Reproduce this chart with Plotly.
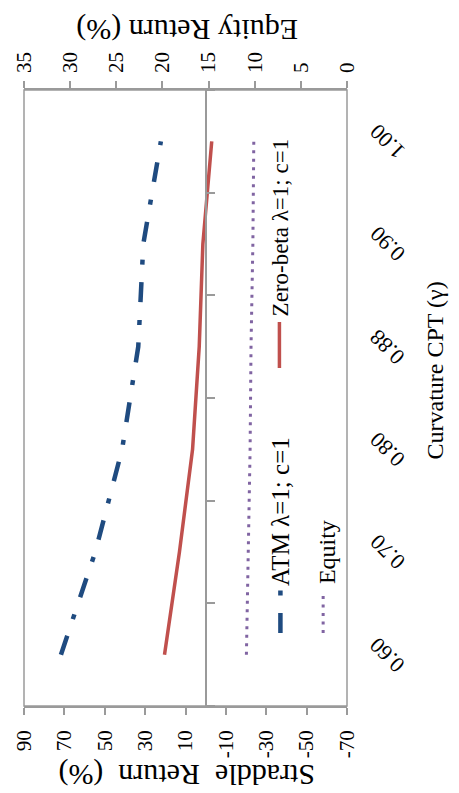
import plotly.graph_objects as go

# Curvature of the CPT value function (category axis)
gamma_labels = ["0.60", "0.70", "0.80", "0.88", "0.90", "1.00"]

# Straddle returns (%), primary axis
atm_returns = [71.7, 54.7, 41.4, 33.4, 30.9, 22.2]
zero_beta_returns = [20.4, 13.0, 6.5, 3.2, 1.4, -3.0]

# Equity return (%), secondary axis
equity_returns = [10.9, 10.7, 10.5, 10.4, 10.2, 10.1]

straddle_ticks = [90, 70, 50, 30, 10, -10, -30, -50, -70]
equity_ticks = [35, 30, 25, 20, 15, 10, 5, 0]

SERIF = "Liberation Serif"
AXIS_GREY = "#9a9a9a"
ATM_BLUE = "#1f4b80"
ZB_RED = "#c0504d"
EQ_PURPLE = "#8064a2"
ATM_DASH = "20px,17.5px,5px,18px"
EQ_DASH = "3px,5.5px"

W, H = 459, 793
ML, MR, MT, MB = 22, 112, 90, 87
PW, PH = W - ML - MR, H - MT - MB


def px_x(x):
    return (x - ML) / PW


def px_y(y):
    return (H - MB - y) / PH


fig = go.Figure()

fig.add_trace(go.Scatter(
    x=atm_returns, y=gamma_labels, mode="lines", name="ATM λ=1; c=1",
    line=dict(color=ATM_BLUE, width=4.5, dash=ATM_DASH),
    xaxis="x", yaxis="y", showlegend=False,
))
fig.add_trace(go.Scatter(
    x=zero_beta_returns, y=gamma_labels, mode="lines", name="Zero-beta λ=1; c=1",
    line=dict(color=ZB_RED, width=3.5),
    xaxis="x", yaxis="y", showlegend=False,
))
fig.add_trace(go.Scatter(
    x=equity_returns, y=gamma_labels, mode="lines", name="Equity",
    line=dict(color=EQ_PURPLE, width=3, dash=EQ_DASH),
    xaxis="x2", yaxis="y2", showlegend=False,
))

tick_font = dict(family=SERIF, size=21, color="black")
cat_range = [-0.5, len(gamma_labels) - 0.5]
zero_pos = (straddle_ticks[0] - 0) / (straddle_ticks[0] - straddle_ticks[-1])

fig.update_layout(
    width=W, height=H,
    margin=dict(l=ML, r=MR, t=MT, b=MB, pad=0),
    paper_bgcolor="white", plot_bgcolor="white",
    showlegend=False,
    xaxis=dict(
        range=[straddle_ticks[0], straddle_ticks[-1]],
        tickmode="array", tickvals=straddle_ticks,
        ticktext=[str(v) for v in straddle_ticks],
        ticks="outside", ticklen=7, tickcolor=AXIS_GREY, tickwidth=1.5,
        showline=True, linecolor=AXIS_GREY, linewidth=1.5,
        tickangle=-90, tickfont=tick_font, ticklabelstandoff=7,
        showgrid=False, zeroline=False,
    ),
    xaxis2=dict(
        overlaying="x", side="top", anchor="y",
        range=[equity_ticks[0], equity_ticks[-1]],
        tickmode="array", tickvals=equity_ticks,
        ticktext=[str(v) for v in equity_ticks],
        ticks="outside", ticklen=7, tickcolor=AXIS_GREY, tickwidth=1.5,
        showline=True, linecolor=AXIS_GREY, linewidth=1.5,
        tickangle=-90, tickfont=tick_font, ticklabelstandoff=4,
        showgrid=False, zeroline=False,
    ),
    yaxis=dict(
        type="category", categoryorder="array", categoryarray=gamma_labels,
        range=cat_range, anchor="free", position=zero_pos, side="right",
        ticks="outside", tickson="boundaries", ticklen=9,
        tickcolor=AXIS_GREY, tickwidth=1.5,
        showline=True, linecolor=AXIS_GREY, linewidth=1.5,
        showticklabels=False, showgrid=False, zeroline=False,
    ),
    yaxis2=dict(
        type="category", categoryorder="array", categoryarray=gamma_labels,
        range=cat_range, overlaying="y", side="right", anchor="x",
        ticks="", showline=False, showgrid=False, zeroline=False,
        showticklabels=False,
    ),
)

# plot-area frame
fig.add_shape(type="rect", xref="paper", yref="paper", x0=0, x1=1, y0=0, y1=1,
              line=dict(color=AXIS_GREY, width=1.5), layer="below")

# category labels, slanted, beside the low end of the straddle scale
# (category axes take the label's index as the position)
for i, g in enumerate(gamma_labels):
    fig.add_annotation(text=g, xref="paper", yref="y2", x=px_x(387), y=i,
                       xanchor="center", yanchor="middle", textangle=-135,
                       showarrow=False,
                       font=dict(family=SERIF, size=22, color="black"))

# legend keys
fig.add_shape(type="line", xref="paper", yref="paper",
              x0=px_x(280), x1=px_x(280), y0=px_y(633), y1=px_y(590),
              line=dict(color=ATM_BLUE, width=4.5, dash=ATM_DASH))
fig.add_shape(type="line", xref="paper", yref="paper",
              x0=px_x(279), x1=px_x(279), y0=px_y(368), y1=px_y(322),
              line=dict(color=ZB_RED, width=3.5))
fig.add_shape(type="line", xref="paper", yref="paper",
              x0=px_x(323), x1=px_x(323), y0=px_y(633), y1=px_y(591),
              line=dict(color=EQ_PURPLE, width=3, dash=EQ_DASH))

for text, x, y, size in [("ATM λ=1; c=1", 280, 588, 25),
                         ("Zero-beta λ=1; c=1", 280, 318, 23),
                         ("Equity", 327, 586, 24)]:
    fig.add_annotation(text=text, xref="paper", yref="paper",
                       x=px_x(x), y=px_y(y), xanchor="center", yanchor="bottom",
                       textangle=-90, showarrow=False,
                       font=dict(family=SERIF, size=size, color="black"))

# axis titles
fig.add_annotation(text="Equity Return (%)", xref="paper", yref="paper",
                   x=px_x(186), y=px_y(30), xanchor="center", yanchor="middle",
                   textangle=180, showarrow=False,
                   font=dict(family=SERIF, size=30, color="black"))
fig.add_annotation(text="Straddle  Return  (%)", xref="paper", yref="paper",
                   x=px_x(185), y=px_y(775), xanchor="center", yanchor="middle",
                   textangle=180, showarrow=False,
                   font=dict(family=SERIF, size=30, color="black"))
fig.add_annotation(text="Curvature CPT (γ)", xref="paper", yref="paper",
                   x=px_x(436), y=px_y(370), xanchor="center", yanchor="middle",
                   textangle=-90, showarrow=False,
                   font=dict(family=SERIF, size=24, color="black"))

fig.write_html("out.html")
